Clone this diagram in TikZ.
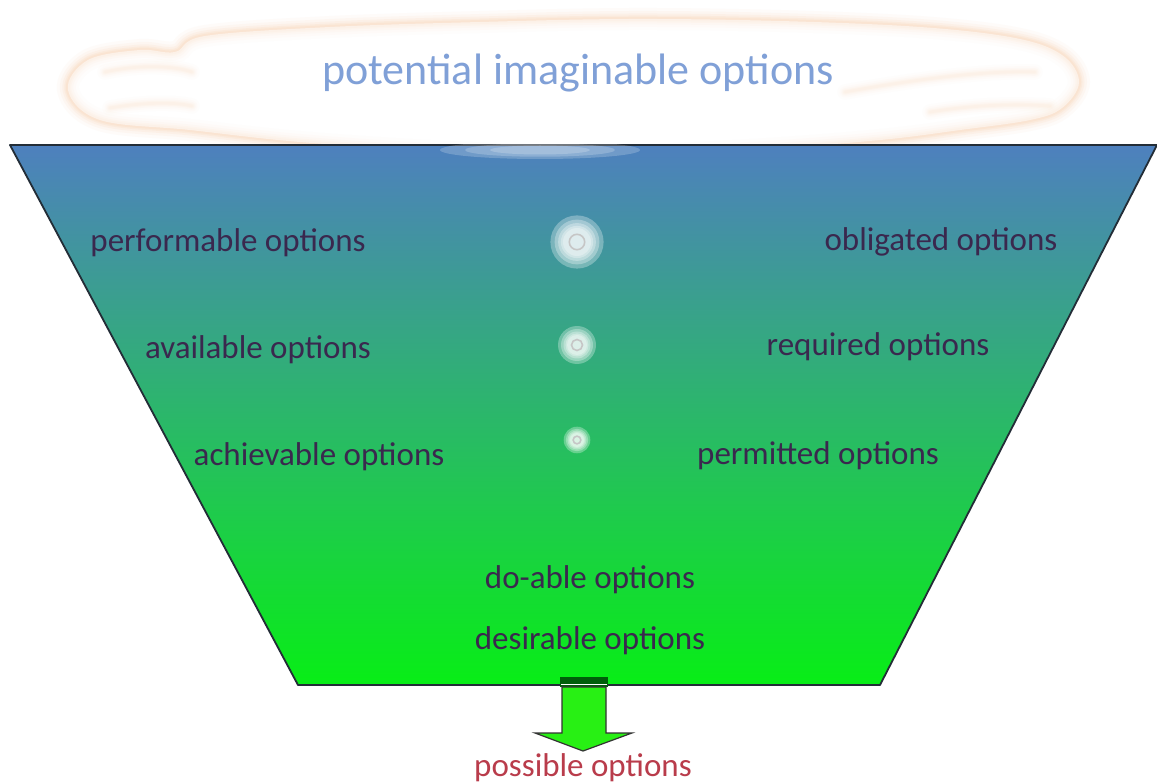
\documentclass[tikz,border=0pt]{standalone}
\usepackage{fontspec}
\setmainfont{Carlito}
\definecolor{funneltop}{RGB}{78,128,190}
\definecolor{funnelbot}{RGB}{8,238,22}
\definecolor{labelink}{RGB}{58,40,78}
\definecolor{cloudink}{RGB}{128,160,215}
\definecolor{cloudglow}{RGB}{250,210,175}
\definecolor{outcome}{RGB}{185,60,75}
\definecolor{edgeink}{RGB}{35,45,55}
\definecolor{arrowfill}{RGB}{40,240,20}
\definecolor{arrowband}{RGB}{0,95,10}
\tikzset{
  optlabel/.style={font=\fontsize{33}{36}\selectfont, text=labelink, inner sep=0pt, anchor=center},
}
% outline of the cloud
\newcommand{\cloudpath}{plot[smooth cycle, tension=0.6] coordinates {
  (68,90) (88,60) (140,50) (175,52) (205,36) (330,27) (480,22) (630,19) (780,21)
  (920,27) (1015,38) (1062,55) (1079,82) (1062,108) (1030,120) (960,130)
  (880,140) (750,150) (600,156) (450,152) (300,142) (190,130) (100,120)}}
% folds inside the cloud rim
\newcommand{\foldpaths}{
  (105,72) .. controls (140,64) and (175,66) .. (192,72)
  (110,108) .. controls (145,102) and (175,102) .. (192,106)
  (845,92) .. controls (900,82) and (980,70) .. (1035,72)
  (930,112) .. controls (980,104) and (1020,104) .. (1050,106)}
\newcommand{\glowat}[2]{%
  \foreach \k in {1.9,1.6,1.35,1.15,1.0}{%
    \fill[white, opacity=0.3] (#1) circle ({#2*\k});
  }%
  \draw[gray!45, line width=1.6pt] (#1) circle ({#2*0.55});
}
\begin{document}
\begin{tikzpicture}[x=1pt,y=-1pt]
\useasboundingbox (0,0) rectangle (1157,783);
\fill[white] (0,0) rectangle (1157,783);

% cloud of imagined options with a soft orange rim
\foreach \w/\o in {22/0.07,16/0.1,11/0.14,7/0.18,4/0.22}{
  \draw[cloudglow, line width=\w pt, opacity=\o, line cap=round] \cloudpath;
  \draw[cloudglow, line width=0.7*\w pt, opacity=\o, line cap=round] \foldpaths;
}
\fill[white, opacity=0.5] \cloudpath;
\node[font=\fontsize{44}{48}\selectfont, text=cloudink, inner sep=0pt] (imag) at (578,73) {potential imaginable options};

% the funnel
\shade[top color=funneltop, bottom color=funnelbot]
  (10,145) -- (1157,145) -- (880,685) -- (298,685) -- cycle;
\draw[edgeink, line width=1.8pt, line join=round]
  (10,145) -- (1157,145) -- (880,685) -- (298,685) -- cycle;

% white haze where the cloud sinks into the funnel
\foreach \k in {1,0.75,0.5}{
  \fill[white, opacity=0.2] (540,150) ellipse ({100*\k} and {9*\k});
}

% glowing markers down the centre
\glowat{577,242}{14}
\glowat{577,345}{10}
\glowat{577,440}{7}

% option labels
\node[optlabel] (perf)  at (228,243) {performable options};
\node[optlabel] (oblig) at (941,242) {obligated options};
\node[optlabel] (avail) at (258,350) {available options};
\node[optlabel] (req)   at (878,347) {required options};
\node[optlabel] (achv)  at (319,457) {achievable options};
\node[optlabel] (perm)  at (818,456) {permitted options};
\node[optlabel] (doable) at (590,580) {do-able options};
\node[optlabel] (desir) at (590,641) {desirable options};

% outlet arrow
\fill[arrowband] (560,677) rectangle (608,687);
\draw[white, line width=1pt] (561,684) -- (607,684);
\filldraw[fill=arrowfill, draw=black!80, line width=1.2pt, line join=miter]
  (562,687) -- (606,687) -- (606,733) -- (632,733) -- (583,751)
  -- (535,733) -- (562,733) -- cycle;
\node[font=\fontsize{33}{36}\selectfont, text=outcome, inner sep=0pt] (poss) at (583,768) {possible options};
\end{tikzpicture}
\end{document}
